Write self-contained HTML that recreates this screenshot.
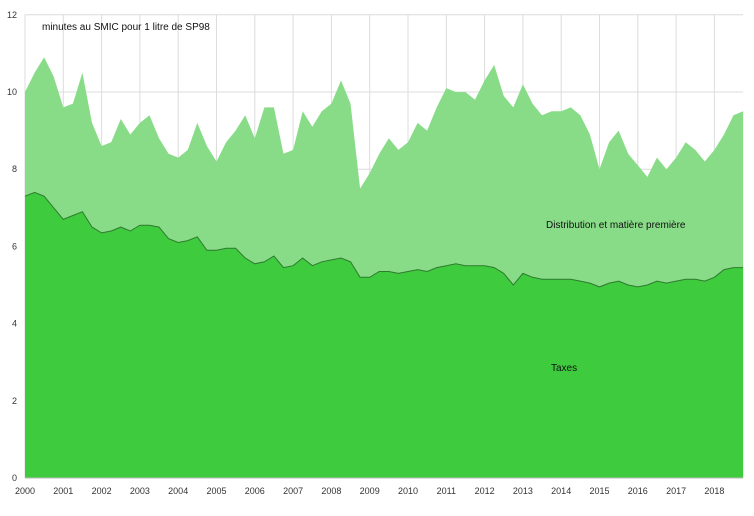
<!DOCTYPE html>
<html><head><meta charset="utf-8"><style>
body{margin:0;background:#fff;font-family:"Liberation Sans",sans-serif}
svg text{font-family:"Liberation Sans",sans-serif}
</style></head><body>
<svg id="c" width="754" height="511"></svg>
<script>
const startYear = 2000;
const stepYear = 0.25;
const totalValues = [10.0,10.5,10.9,10.4,9.6,9.7,10.5,9.2,8.6,8.7,9.3,8.9,9.2,9.4,8.8,8.4,8.3,8.5,9.2,8.6,8.2,8.7,9.0,9.4,8.8,9.6,9.6,8.4,8.5,9.5,9.1,9.5,9.7,10.3,9.7,7.5,7.9,8.4,8.8,8.5,8.7,9.2,9.0,9.6,10.1,10.0,10.0,9.8,10.3,10.7,9.9,9.6,10.2,9.7,9.4,9.5,9.5,9.6,9.4,8.9,8.0,8.7,9.0,8.4,8.1,7.8,8.3,8.0,8.3,8.7,8.5,8.2,8.5,8.9,9.4,9.5];
const taxValues = [7.3,7.4,7.3,7.0,6.7,6.8,6.9,6.5,6.35,6.4,6.5,6.4,6.55,6.55,6.5,6.2,6.1,6.15,6.25,5.9,5.9,5.95,5.95,5.7,5.55,5.6,5.75,5.45,5.5,5.7,5.5,5.6,5.65,5.7,5.6,5.2,5.2,5.35,5.35,5.3,5.35,5.4,5.35,5.45,5.5,5.55,5.5,5.5,5.5,5.45,5.3,5.0,5.3,5.2,5.15,5.15,5.15,5.15,5.1,5.05,4.95,5.05,5.1,5.0,4.95,5.0,5.1,5.05,5.1,5.15,5.15,5.1,5.2,5.4,5.45,5.45];
const yTicks = [0,2,4,6,8,10,12];
const xTicks = [2000,2001,2002,2003,2004,2005,2006,2007,2008,2009,2010,2011,2012,2013,2014,2015,2016,2017,2018];

const NS="http://www.w3.org/2000/svg";
const svg=document.getElementById('c');
const X0=25,PXY=38.3,Y0=478,PXV=38.6,XR=743;
const xs=t=>X0+(t-2000)*PXY;
const ys=v=>Y0-v*PXV;
function mk(tag,attrs){const e=document.createElementNS(NS,tag);for(const k in attrs)e.setAttribute(k,attrs[k]);svg.appendChild(e);return e;}

yTicks.forEach(v=>{
  const l=mk('line',{x1:X0,x2:XR,y1:ys(v),y2:ys(v),stroke:'#dcdcdc','stroke-width':1});
  
  
  const t=mk('text',{x:X0-8,y:ys(v)+3,'font-size':9,'text-anchor':'end',fill:'#333'});
  t.textContent=v;
  
  
});
xTicks.forEach(y=>{
  const l=mk('line',{x1:xs(y),x2:xs(y),y1:ys(12),y2:Y0,stroke:'#dcdcdc','stroke-width':1});
  
  
  const t=mk('text',{x:xs(y),y:494,'font-size':9,'text-anchor':'middle',fill:'#333'});
  t.textContent=y;
  
  
});

function areaPath(vals){
  let d='M'+xs(startYear)+','+Y0;
  vals.forEach((v,i)=>{d+=' L'+xs(startYear+i*stepYear).toFixed(1)+','+ys(v).toFixed(1);});
  d+=' L'+xs(startYear+(vals.length-1)*stepYear).toFixed(1)+','+Y0+' Z';
  return d;
}
function linePath(vals){
  return vals.map((v,i)=>(i?'L':'M')+xs(startYear+i*stepYear).toFixed(1)+','+ys(v).toFixed(1)).join(' ');
}
const a1=mk('path',{d:areaPath(totalValues),fill:'#88dc88'});


const a2=mk('path',{d:areaPath(taxValues),fill:'#3ecc3e'});


const l2=mk('path',{d:linePath(taxValues),fill:'none',stroke:'#2f7a2f','stroke-width':1});


const ax=mk('line',{x1:X0,x2:XR,y1:Y0,y2:Y0,stroke:'#bbb','stroke-width':1});



const t1=mk('text',{x:42,y:30,'font-size':10,fill:'#111'});t1.textContent='minutes au SMIC pour 1 litre de SP98';


const t2=mk('text',{x:546,y:228,'font-size':10,fill:'#111'});t2.textContent='Distribution et matière première';


const t3=mk('text',{x:551,y:371,'font-size':10,fill:'#111'});t3.textContent='Taxes';


</script>
</body></html>
